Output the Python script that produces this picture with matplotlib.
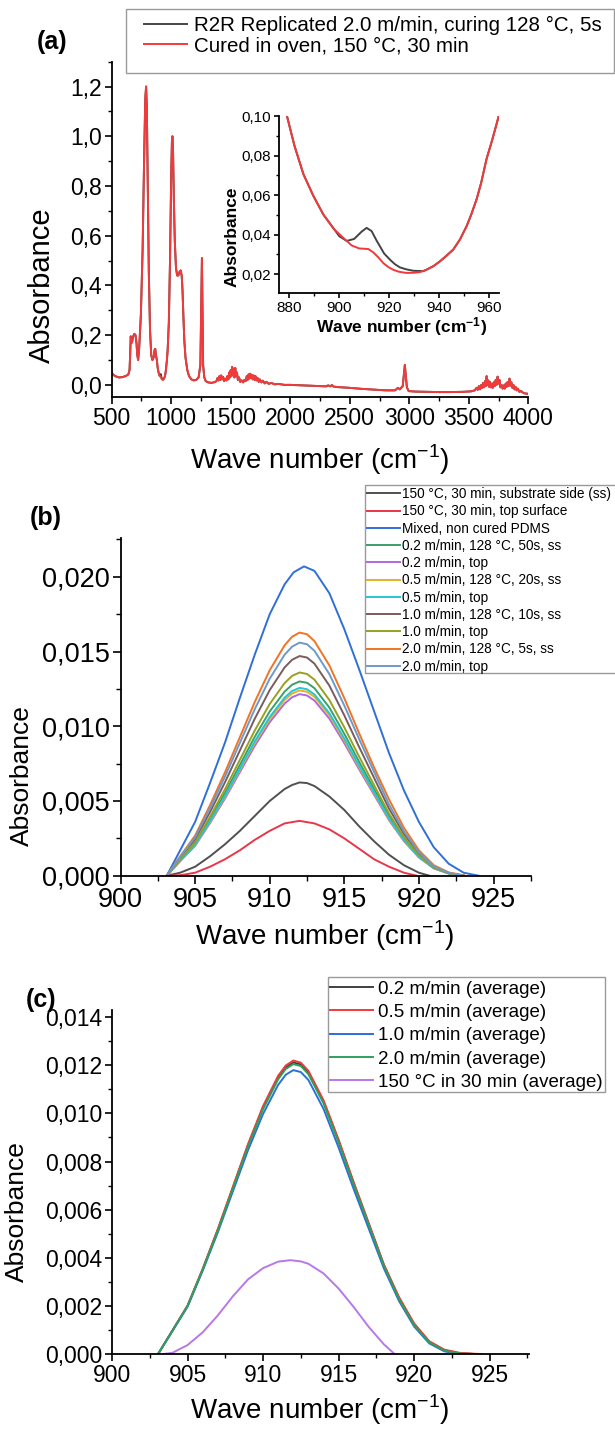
import numpy as np
import matplotlib
matplotlib.use("Agg")
import matplotlib.pyplot as plt
from matplotlib.patches import Rectangle
from matplotlib.ticker import MultipleLocator, FuncFormatter

plt.rcParams['font.family'] = ['Liberation Sans', 'DejaVu Sans']
plt.rcParams['mathtext.fontset'] = 'custom'
plt.rcParams['mathtext.rm'] = 'Liberation Sans'
plt.rcParams['mathtext.bf'] = 'Liberation Sans:bold'

W, H = 615, 1429

# ---------------- panel (a): full spectrum (oven cured) ----------------
a_wn = np.array([
    500, 510, 530, 560, 590, 620, 640, 650, 655, 660, 665, 670, 680, 690, 700,
    708, 715, 722, 730, 745, 760, 772, 782, 789, 795, 802, 812, 822, 832, 842,
    852, 860, 866, 872, 880, 885, 890, 895, 900, 905, 910, 914, 918, 922, 927,
    932, 938, 941, 946, 951, 955, 959, 964, 970, 980, 990, 1000, 1006, 1010,
    1015, 1022, 1030, 1040, 1050, 1060, 1070, 1080, 1088, 1095, 1102, 1110,
    1120, 1135, 1150, 1170, 1190, 1210, 1230, 1245, 1252, 1258, 1263, 1268,
    1278, 1290, 1310, 1340, 1370,
    1380, 1390, 1398, 1405, 1412, 1420, 1428, 1436, 1445, 1455, 1465, 1472,
    1480, 1488, 1494, 1500, 1506, 1512, 1518, 1525, 1531, 1538, 1545, 1552,
    1560, 1570, 1580, 1592, 1605, 1615, 1625, 1635, 1642, 1650, 1657, 1664,
    1671, 1678, 1685, 1692, 1700, 1708, 1716, 1725, 1735, 1745, 1758, 1770,
    1785, 1800, 1820, 1840, 1870, 1900, 1950, 2000, 2100, 2200, 2300, 2320,
    2335, 2350, 2365, 2400, 2500, 2600, 2700, 2800, 2880, 2905, 2920, 2945,
    2955, 2963, 2970, 2980, 2995, 3050, 3150, 3250, 3350, 3450, 3520,
    3550, 3565, 3575, 3585, 3595, 3605, 3612, 3620, 3628, 3636, 3643, 3650,
    3657, 3664, 3671, 3678, 3686, 3694, 3702, 3710, 3718, 3726, 3734, 3742,
    3750, 3758, 3766, 3775, 3784, 3793, 3802, 3810, 3818, 3826, 3834, 3842,
    3850, 3858, 3866, 3875, 3884, 3893, 3902, 3912, 3925, 3940, 3960, 3980,
    4000])
a_abs = np.array([
    0.050, 0.042, 0.035, 0.030, 0.031, 0.036, 0.042, 0.060, 0.120, 0.195,
    0.175, 0.170, 0.195, 0.205, 0.200, 0.170, 0.120, 0.100, 0.140, 0.280,
    0.550, 0.900, 1.150, 1.200, 1.120, 0.850, 0.450, 0.220, 0.120, 0.100,
    0.110, 0.140, 0.145, 0.120, 0.100, 0.073, 0.059, 0.048, 0.040, 0.034,
    0.0328, 0.030, 0.025, 0.022, 0.0205, 0.021, 0.024, 0.027, 0.033, 0.044,
    0.058, 0.078, 0.100, 0.140, 0.250, 0.500, 0.850, 0.980, 1.000, 0.950,
    0.750, 0.580, 0.470, 0.440, 0.440, 0.455, 0.460, 0.440, 0.380, 0.280,
    0.180, 0.110, 0.060, 0.035, 0.022, 0.018, 0.020, 0.030, 0.080, 0.300,
    0.510, 0.300, 0.080, 0.030, 0.015, 0.010, 0.008, 0.012,
    0.015, 0.028, 0.018, 0.035, 0.020, 0.038, 0.022, 0.032, 0.015, 0.025,
    0.018, 0.035, 0.022, 0.050, 0.030, 0.060, 0.035, 0.072, 0.040, 0.065,
    0.030, 0.068, 0.035, 0.050, 0.020, 0.030, 0.012, 0.018, 0.010, 0.020,
    0.015, 0.035, 0.020, 0.042, 0.025, 0.045, 0.028, 0.040, 0.022, 0.038,
    0.020, 0.035, 0.018, 0.028, 0.012, 0.022, 0.010, 0.017, 0.006, 0.012,
    0.004, 0.008, 0.002, 0.004, 0.000, 0.000, -0.002, -0.004, -0.006, -0.002,
    -0.006, -0.001, -0.007, -0.009, -0.012, -0.016, -0.019, -0.022, -0.022,
    -0.012, -0.018, -0.005, 0.040, 0.080, 0.040, -0.010, -0.025, -0.027,
    -0.028, -0.029, -0.029, -0.028, -0.026,
    -0.022, -0.012, -0.020, -0.005, -0.018, 0.000, -0.012, 0.008, -0.010,
    0.015, -0.005, 0.035, 0.000, 0.018, -0.008, 0.012, -0.010, 0.005, -0.012,
    0.010, -0.005, 0.020, 0.000, 0.033, 0.005, 0.020, -0.010, 0.000, -0.015,
    -0.002, -0.015, 0.005, -0.008, 0.012, -0.005, 0.025, -0.003, 0.010,
    -0.012, 0.000, -0.018, -0.008, -0.022, -0.015, -0.028, -0.025, -0.033,
    -0.035, -0.036])

# inset (a): zoom on the 910 cm-1 band
in_red_wn = [879, 882, 885.6, 889.6, 893.6, 897.7, 901.7, 905, 908, 911.7,
             913.7, 915.7, 917.7, 919.7, 921.7, 924, 927, 930, 932.4, 935,
             937.8, 940.5, 943, 945.8, 948.5, 951.2, 953, 955.2, 957, 959.2,
             961.5, 964.1]
in_red_abs = [0.100, 0.085, 0.0706, 0.0596, 0.0502, 0.0430, 0.0383, 0.0345,
              0.0330, 0.0327, 0.0310, 0.0285, 0.0256, 0.0236, 0.0222, 0.0212,
              0.0206, 0.0207, 0.0210, 0.0222, 0.0240, 0.0265, 0.0292, 0.0324,
              0.0375, 0.0443, 0.0500, 0.0579, 0.0660, 0.0783, 0.0880, 0.100]
in_black_wn = [879, 882, 885.6, 889.6, 893.6, 897.7, 900, 903, 906, 909, 911,
               913, 915, 916.4, 918, 920.4, 922.4, 924.4, 927, 929.8, 933.8]
in_black_abs = [0.100, 0.085, 0.0706, 0.0596, 0.0502, 0.0432, 0.0392, 0.0368,
                0.0378, 0.0415, 0.0434, 0.0418, 0.0370, 0.0340, 0.0305,
                0.0273, 0.0250, 0.0234, 0.0224, 0.0217, 0.0215]

a_labels = ["R2R Replicated 2.0 m/min, curing 128 °C, 5s",
            "Cured in oven, 150 °C, 30 min"]

# ---------------- panel (b): 910 cm-1 band, all samples ----------------
b_labels = ["150 °C, 30 min, substrate side (ss)", "150 °C, 30 min, top surface",
            "Mixed, non cured PDMS", "0.2 m/min, 128 °C, 50s, ss", "0.2 m/min, top",
            "0.5 m/min, 128 °C, 20s, ss", "0.5 m/min, top", "1.0 m/min, 128 °C, 10s, ss",
            "1.0 m/min, top", "2.0 m/min, 128 °C, 5s, ss", "2.0 m/min, top"]
b_colors = ["#505050", "#e8364a", "#2f6fd8", "#3aa06a", "#b266e0", "#e6b222",
            "#22c6d8", "#7a5c5c", "#98a020", "#f07424", "#6c9acb"]

b_wn = [903.1, 904, 905, 906, 907, 908, 909, 910, 911, 911.5, 912, 912.5, 913,
        914, 915, 916, 917, 918, 919, 920, 921, 922, 923]
b_black_wn = [903.1, 904, 905, 906, 907, 908, 909, 910, 911, 911.5, 912, 912.5,
              913, 914, 915, 916, 917, 918, 919, 920, 920.7]
b_black = [0, 0.0002, 0.0006, 0.0013, 0.0021, 0.0030, 0.0040, 0.0050, 0.0058,
           0.00607, 0.00624, 0.0062, 0.0060, 0.0053, 0.0044, 0.0033, 0.0023,
           0.0014, 0.0007, 0.0002, 0]
b_red_wn = [903.1, 904, 905, 906, 907, 908, 909, 910, 911, 912, 913, 914, 915,
            916, 917, 918, 919, 919.85]
b_red = [0, 0.00003, 0.0002, 0.0006, 0.0011, 0.0017, 0.0024, 0.0030, 0.0035,
         0.00367, 0.0035, 0.0031, 0.0025, 0.0018, 0.0011, 0.0006, 0.0002, 0]
b_mixed_wn = [903.1, 904, 905, 906, 907, 908, 909, 910, 911, 911.6, 912.3, 913,
              914, 915, 916, 917, 918, 919, 920, 921, 922, 923, 924]
b_mixed = [0, 0.0017, 0.0036, 0.0062, 0.0089, 0.0119, 0.0148, 0.0175, 0.0195,
           0.0203, 0.0207, 0.0204, 0.0189, 0.0165, 0.0138, 0.0110, 0.0082,
           0.0057, 0.0036, 0.0019, 0.0008, 0.0002, 0.0]
b_02_ss = [0, 0.00104, 0.00215, 0.00377, 0.00553, 0.00741, 0.0093, 0.01099,
           0.01232, 0.01278, 0.0130, 0.01291, 0.01255, 0.01125, 0.00949,
           0.00761, 0.00579, 0.00397, 0.00247, 0.0013, 0.00052, 0.00016, 0]
b_02_top = [0, 0.00097, 0.002, 0.00352, 0.00516, 0.00693, 0.00869, 0.01027,
            0.01152, 0.01194, 0.01215, 0.01206, 0.01172, 0.01051, 0.00887,
            0.00711, 0.00541, 0.00371, 0.00231, 0.00122, 0.00049, 0.00015, 0]
b_05_ss = [0, 0.00099, 0.00205, 0.0036, 0.00527, 0.00707, 0.00887, 0.01048,
           0.01176, 0.01219, 0.0124, 0.01231, 0.01197, 0.01073, 0.00905,
           0.00725, 0.00552, 0.00378, 0.00236, 0.00124, 0.0005, 0.00015, 0]
b_05_top = [0, 0.00101, 0.00207, 0.00365, 0.00534, 0.00716, 0.00899, 0.01062,
            0.01192, 0.01236, 0.01257, 0.01248, 0.01213, 0.01087, 0.00918,
            0.00735, 0.00559, 0.00383, 0.00239, 0.00126, 0.0005, 0.00015, 0]
b_10_ss = [0, 0.00118, 0.00243, 0.00426, 0.00625, 0.00838, 0.01051, 0.01242,
           0.01394, 0.01445, 0.0147, 0.0146, 0.01419, 0.01272, 0.01073, 0.0086,
           0.00654, 0.00448, 0.00279, 0.00147, 0.00059, 0.00018, 0]
b_10_top = [0, 0.00109, 0.00224, 0.00394, 0.00578, 0.00775, 0.00972, 0.01149,
            0.01289, 0.01337, 0.0136, 0.0135, 0.01312, 0.01176, 0.00993,
            0.00796, 0.00605, 0.00415, 0.00258, 0.00136, 0.00054, 0.00016, 0]
b_20_ss = [0, 0.0013, 0.00268, 0.00472, 0.00691, 0.00927, 0.01163, 0.01375,
           0.01542, 0.01599, 0.01627, 0.01616, 0.0157, 0.01407, 0.01188,
           0.00952, 0.00724, 0.0051, 0.0032, 0.0017, 0.0007, 0.00022, 0.00003]
b_20_top = [0, 0.00125, 0.00257, 0.00452, 0.00663, 0.00889, 0.01115, 0.01318,
            0.01479, 0.01533, 0.0156, 0.01549, 0.01505, 0.01349, 0.01139,
            0.00913, 0.00694, 0.00476, 0.00296, 0.00156, 0.00062, 0.00019, 0]

# ---------------- panel (c): averages ----------------
c_labels = ["0.2 m/min (average)", "0.5 m/min (average)", "1.0 m/min (average)",
            "2.0 m/min (average)", "150 °C in 30 min (average)"]
c_colors = ["#404040", "#f23a3a", "#2b6fd8", "#2fa05c", "#b878e6"]
c_wn = [903.05, 904, 905, 906, 907, 908, 909, 910, 911, 911.5, 912, 912.5, 913,
        914, 915, 916, 917, 918, 919, 920, 921, 922, 923, 924, 924.4]
c_02 = [0, 0.00097, 0.002, 0.00351, 0.00515, 0.00691, 0.00867, 0.01024, 0.01149,
        0.01191, 0.01212, 0.01204, 0.0117, 0.01048, 0.00885, 0.00709, 0.00539,
        0.00368, 0.00232, 0.00123, 0.0005, 0.00016, 0.00003, 0, 0]
c_05 = [0, 0.00098, 0.00201, 0.00354, 0.00519, 0.00695, 0.00872, 0.01031,
        0.01157, 0.01199, 0.0122, 0.01211, 0.01177, 0.01055, 0.00891, 0.00714,
        0.00543, 0.00372, 0.00236, 0.00127, 0.00053, 0.00018, 0.00005, 0.00001, 0]
c_10 = [0, 0.00096, 0.00197, 0.00346, 0.00505, 0.00676, 0.00847, 0.00998,
        0.01119, 0.01161, 0.0118, 0.01172, 0.01139, 0.01019, 0.00858, 0.00685,
        0.0052, 0.00355, 0.0022, 0.00114, 0.00044, 0.00011, 0, 0, 0]
c_20 = [0, 0.00096, 0.00199, 0.0035, 0.00512, 0.00687, 0.00862, 0.01018,
        0.01142, 0.01185, 0.01205, 0.01197, 0.01163, 0.01042, 0.0088, 0.00705,
        0.00536, 0.00366, 0.00228, 0.0012, 0.00048, 0.00014, 0.00002, 0, 0]
c_oven_wn = [903.4, 904, 905, 906, 907, 908, 909, 910, 911, 911.8, 912.5, 913,
             914, 915, 916, 917, 918, 918.7]
c_oven = [0, 0.00005, 0.00037, 0.0009, 0.0016, 0.0024, 0.0031, 0.00357,
          0.00384, 0.0039, 0.00385, 0.00375, 0.00335, 0.00272, 0.00195,
          0.00112, 0.0004, 0]


def rect(left, top, right, bottom):
    """Axes rectangle from pixel edges."""
    return [left / W, 1 - bottom / H, (right - left) / W, (bottom - top) / H]


def comma(decimals):
    return FuncFormatter(lambda v, pos: f"{v:.{decimals}f}".replace(".", ","))


def style_axes(ax, size, xmaj, xmin, ymaj, ymin, ydec, major_len=5, minor_len=3):
    for side in ("top", "right"):
        ax.spines[side].set_visible(False)
    for side in ("left", "bottom"):
        ax.spines[side].set_linewidth(1.3)
    ax.xaxis.set_major_locator(MultipleLocator(xmaj))
    ax.xaxis.set_minor_locator(MultipleLocator(xmin))
    ax.yaxis.set_major_locator(MultipleLocator(ymaj))
    ax.yaxis.set_minor_locator(MultipleLocator(ymin))
    ax.yaxis.set_major_formatter(comma(ydec))
    ax.tick_params(which="major", direction="out", length=major_len, width=1.2,
                   labelsize=size, pad=2)
    ax.tick_params(which="minor", direction="out", length=minor_len, width=1.0)


def fig_text(x, y, s, **kw):
    fig.text(x / W, 1 - y / H, s, ha="center", va="center", **kw)


def legend_box(handles, labels, box, anchor, size, hlen, hpad, spacing):
    """Frameless legend at a pixel anchor, with its own frame rectangle."""
    left, top, right, bottom = box
    fig.patches.append(Rectangle((left / W, 1 - bottom / H), (right - left) / W,
                                 (bottom - top) / H, transform=fig.transFigure,
                                 fill=False, edgecolor="#9a9a9a", lw=1.0))
    fig.legend(handles, labels, loc="upper left",
               bbox_to_anchor=(anchor[0] / W, 1 - anchor[1] / H),
               fontsize=size, frameon=False, handlelength=hlen,
               handletextpad=hpad, labelspacing=spacing, borderpad=0,
               borderaxespad=0)


fig = plt.figure(figsize=(W / 100, H / 100), dpi=100)
xlab = "Wave number (cm$^{-1}$)"
LW = 1.4

# ---- (a)
ax_a = fig.add_axes(rect(111.7, 61.7, 528.3, 397.3))
bk_wn = np.concatenate([a_wn[a_wn < 879], in_black_wn, a_wn[a_wn > 934]])
bk_abs = np.concatenate([a_abs[a_wn < 879], in_black_abs, a_abs[a_wn > 934]])
la1, = ax_a.plot(bk_wn, bk_abs, color="#444444", lw=LW)
la2, = ax_a.plot(a_wn, a_abs, color="#f23a3a", lw=LW)
ax_a.set_xlim(500, 4000)
ax_a.set_ylim(-0.05, 1.3)
style_axes(ax_a, 16.5, 500, 250, 0.2, 0.1, 1)
legend_box([la1, la2], a_labels, (126, 9, 614, 72.5), (144, 16), 14.8,
           2.1, 0.33, 0.05)
fig_text(52, 41.7, "(a)", fontsize=18, fontweight="bold")
fig_text(42, 285, "Absorbance", fontsize=21, rotation=90)
fig_text(320, 460, xlab, fontsize=20)

ins = fig.add_axes(rect(279, 116, 499, 293.3))
ins.plot(list(in_black_wn) + [w for w in in_red_wn if w > 934],
         list(in_black_abs) + [a for w, a in zip(in_red_wn, in_red_abs) if w > 934],
         color="#444444", lw=LW)
ins.plot(in_red_wn, in_red_abs, color="#f23a3a", lw=LW)
ins.set_xlim(875.8, 964.2)
ins.set_ylim(0.0103, 0.1)
style_axes(ins, 11, 20, 10, 0.02, 0.01, 2, major_len=3.5, minor_len=2)
fig_text(231.7, 237, "Absorbance", fontsize=12.5, fontweight="bold", rotation=90)
fig_text(402, 327, "Wave number (cm$\\mathbf{^{-1}}$)", fontsize=12.5,
         fontweight="bold")

# ---- (b)
ax_b = fig.add_axes(rect(120.5, 538, 530.8, 875.7))
b_series = [(b_black_wn, b_black), (b_red_wn, b_red), (b_mixed_wn, b_mixed),
            (b_wn, b_02_ss), (b_wn, b_02_top), (b_wn, b_05_ss), (b_wn, b_05_top),
            (b_wn, b_10_ss), (b_wn, b_10_top), (b_wn, b_20_ss), (b_wn, b_20_top)]
b_lines = []
for (xs, ys), col in zip(b_series, b_colors):
    ln, = ax_b.plot(xs, ys, color=col, lw=LW)
    b_lines.append(ln)
ax_b.set_xlim(900, 927.5)
ax_b.set_ylim(0, 0.0226)
style_axes(ax_b, 19.5, 5, 2.5, 0.005, 0.0025, 3, major_len=6, minor_len=3.5)
legend_box(b_lines, b_labels, (365, 485, 630, 673), (367, 487), 9.8,
           2.4, 0.15, 0.24)
fig_text(46, 518, "(b)", fontsize=18, fontweight="bold")
fig_text(22, 776, "Absorbance", fontsize=19, rotation=90)
fig_text(325, 936, xlab, fontsize=20)

# ---- (c)
ax_c = fig.add_axes(rect(112, 1010, 529, 1354))
c_lines = []
for ys, col in zip([c_02, c_05, c_10, c_20], c_colors[:4]):
    ln, = ax_c.plot(c_wn, ys, color=col, lw=LW)
    c_lines.append(ln)
ln, = ax_c.plot(c_oven_wn, c_oven, color=c_colors[4], lw=LW)
c_lines.append(ln)
ax_c.set_xlim(900, 927.6)
ax_c.set_ylim(0, 0.0143)
style_axes(ax_c, 16.5, 5, 2.5, 0.002, 0.001, 3, major_len=5, minor_len=3)
legend_box(c_lines, c_labels, (328, 977, 605, 1092), (330, 980.5), 13.5,
           2.3, 0.27, 0.33)
fig_text(41, 1000, "(c)", fontsize=18, fontweight="bold")
fig_text(17, 1212, "Absorbance", fontsize=19, rotation=90)
fig_text(320, 1410, xlab, fontsize=20)

fig.savefig("out.png", dpi=100)
